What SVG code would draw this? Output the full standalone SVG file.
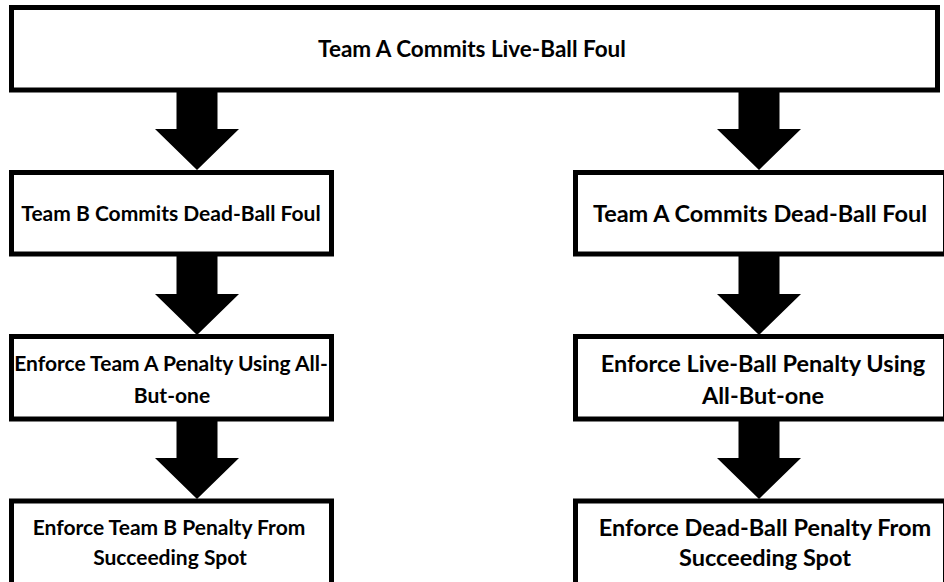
<svg xmlns="http://www.w3.org/2000/svg" width="944" height="582" viewBox="0 0 944 582">
<defs>
<style>
.box{fill:#fff;stroke:#000;stroke-width:5}
.t{font-family:Lato,"Open Sans","Liberation Sans",sans-serif;font-weight:bold;fill:#000;text-anchor:middle}
.top{font-size:22.5px}
.l{font-size:21px}
.r{font-size:23.5px}
.arr{fill:#000}
</style>
<path id="ar" d="M-20.5,0 H20.5 V41 H42 L0,82 L-42,41 H-20.5 Z"/>
</defs>
<rect width="944" height="582" fill="#fff"/>
<g id="connectors">
<use href="#ar" class="arr" x="197" y="88"/>
<use href="#ar" class="arr" x="759" y="88"/>
<use href="#ar" class="arr" x="197" y="253"/>
<use href="#ar" class="arr" x="759" y="253"/>
<use href="#ar" class="arr" x="197" y="417"/>
<use href="#ar" class="arr" x="759" y="417"/>
</g>
<g id="n1"><rect class="box" x="11.5" y="7.5" width="926" height="82.5"/><text class="t top" x="472" y="57">Team A Commits Live-Ball Foul</text></g>
<g id="n2"><rect class="box" x="11.5" y="172.5" width="320" height="81.5"/><text class="t l" x="171" y="220.5">Team B Commits Dead-Ball Foul</text></g>
<g id="n3"><rect class="box" x="575.5" y="172.5" width="370" height="81.5"/><text class="t r" x="760" y="221.5">Team A Commits Dead-Ball Foul</text></g>
<g id="n4"><rect class="box" x="11.5" y="336.5" width="320" height="82.5"/><text class="t l" x="171" y="370.5">Enforce Team A Penalty Using All-</text><text class="t l" x="172" y="402.5">But-one</text></g>
<g id="n5"><rect class="box" x="575.5" y="336.5" width="370" height="82.5"/><text class="t r" x="763" y="371.5">Enforce Live-Ball Penalty Using</text><text class="t r" x="763" y="403.5">All-But-one</text></g>
<g id="n6"><rect class="box" x="11.5" y="501" width="320" height="85"/><text class="t l" x="169" y="534.5">Enforce Team B Penalty From</text><text class="t l" x="170" y="564.5">Succeeding Spot</text></g>
<g id="n7"><rect class="box" x="575.5" y="501" width="370" height="85"/><text class="t r" x="765" y="535.5">Enforce Dead-Ball Penalty From</text><text class="t r" x="765" y="565.5">Succeeding Spot</text></g>
</svg>
